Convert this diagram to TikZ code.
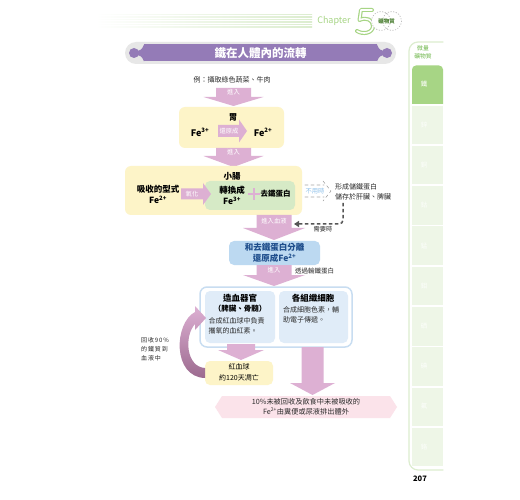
\documentclass[tikz,border=0pt]{standalone}
\usepackage{fontspec}
\setmainfont{Noto Sans CJK TC}
\usetikzlibrary{arrows.meta,calc,positioning}
\definecolor{ArrowPink}{HTML}{DDB0D3}
\definecolor{ArrowDark}{HTML}{9C6A8F}
\definecolor{BoxYellow}{HTML}{FDF4C8}
\definecolor{BoxGreen}{HTML}{D6EAC6}
\definecolor{BoxBlue}{HTML}{BCD9F1}
\definecolor{TextBlue}{HTML}{1F4E8C}
\definecolor{PanelBlue}{HTML}{E0ECF8}
\definecolor{PanelEdge}{HTML}{C8DDF1}
\definecolor{BannerPink}{HTML}{FBE3EA}
\definecolor{TitlePurple}{HTML}{947BB7}
\definecolor{CapsuleGray}{HTML}{E7E7E7}
\definecolor{LeafGreen}{HTML}{A7D585}
\definecolor{LeafLight}{HTML}{EEF6E7}
\definecolor{LeafEdge}{HTML}{DCEDCF}
\definecolor{LeafText}{HTML}{6DB649}
\definecolor{NoteBlue}{HTML}{8FC1EA}
\definecolor{InkGray}{HTML}{2B2B2B}
\definecolor{DashGray}{HTML}{555555}
% fat pink arrows: centre x, top, neck, tip, body half, head half
\newcommand{\fatdown}[6]{%
  \path[fill=ArrowPink]
    ({#1-#5},#2) -- ({#1+#5},#2) -- ({#1+#5},#3) -- ({#1+#6},#3)
    -- (#1,#4) -- ({#1-#6},#3) -- ({#1-#5},#3) -- cycle;%
}
% left, neck, tip, centre y, body half, head half
\newcommand{\fatright}[6]{%
  \path[fill=ArrowPink]
    (#1,{#4-#5}) -- (#2,{#4-#5}) -- (#2,{#4-#6}) -- (#3,#4)
    -- (#2,{#4+#6}) -- (#2,{#4+#5}) -- (#1,{#4+#5}) -- cycle;%
}

\begin{document}
\begin{tikzpicture}[x=1pt,y=-1pt,line cap=round,line join=round,
    every node/.style={inner sep=0pt},
    ybox/.style={fill=BoxYellow,rounded corners=6pt},
    titletext/.style={font=\bfseries\fontsize{11.5}{12}\selectfont,text=white},
    smalltext/.style={font=\fontsize{7}{9.8}\selectfont,text=InkGray},
    boldtext/.style={font=\bfseries\fontsize{8.5}{11}\selectfont,text=black,align=center},
    fetext/.style={font=\bfseries\fontsize{9}{11}\selectfont,text=black},
    arrowtext/.style={font=\fontsize{6.3}{7}\selectfont,text=white},
    tabtext/.style={font=\fontsize{6.5}{7}\selectfont,text=white}]
  \useasboundingbox (0,0) rectangle (520,500);
  \fill[white] (0,0) rectangle (520,500);

  % chapter header
  \foreach \y in {14.5,17,...,27}{
    \shade[left color=white,right color=LeafEdge] (95,{\y-0.45}) rectangle (312,{\y+0.45});}
  \node[font=\fontsize{9}{9}\selectfont,text=LeafGreen] (chapter) at (334,21) {Chapter};
  \draw[LeafGreen,line width=4pt] (372,10) -- (361,10) -- (359.5,20)
    .. controls (366,17) and (373,19.5) .. (373,26) .. controls (373,33) and (363,35) .. (357,31);
  \draw[white,line width=1.6pt] (372,10) -- (361,10) -- (359.5,20)
    .. controls (366,17) and (373,19.5) .. (373,26) .. controls (373,33) and (363,35) .. (357,31);
  \draw[gray!55,dotted,line width=0.7pt,fill=white] (381,21) circle (9.5) (392,21) circle (9.5);
  \node[font=\bfseries\fontsize{5.5}{6}\selectfont,text=LeafText!70!black] (chapname) at (386.5,21) {礦物質};

  % title banner
  \path[fill=CapsuleGray,rounded corners=11pt] (125,42) rectangle (396,64);
  \path[fill=TitlePurple] (144,44.5) rectangle (377,61.5);
  \path[fill=TitlePurple] (144,44.5) .. controls (142,50) and (140,51) .. (134,51)
    -- (134,55) .. controls (140,55) and (142,56) .. (144,61.5) -- cycle;
  \path[fill=TitlePurple] (377,44.5) .. controls (379,50) and (381,51) .. (387,51)
    -- (387,55) .. controls (381,55) and (379,56) .. (377,61.5) -- cycle;
  \fill[TitlePurple] (134,53) circle (5) (387,53) circle (5);
  \node[titletext] (title) at (260.5,53) {鐵在人體內的流轉};

  \node[smalltext] (food) at (232,79.5) {例：攝取綠色蔬菜、牛肉};

  % stomach
  \fatdown{233.5}{88}{97}{106}{17.5}{30}
  \node[arrowtext] (in1) at (233.5,92.5) {進入};
  \node[ybox,minimum width=105,minimum height=41] (stomach) at (231.5,127.5) {};
  \node[boldtext] (stomachname) at (233,118) {胃};
  \node[fetext] (fe3a) at (200,132) {Fe\textsuperscript{3+}};
  \node[fetext] (fe2a) at (263,132) {Fe\textsuperscript{2+}};
  \fatright{218}{239}{247}{131}{6}{11.5}
  \node[arrowtext] (reduce) at (229,131) {還原成};

  % small intestine
  \fatdown{233.5}{148}{156}{167}{17.5}{30}
  \node[arrowtext] (in2) at (233.5,152) {進入};
  \node[ybox,minimum width=177,minimum height=49] (intestine) at (213.5,190.5) {};
  \node[boldtext] (intestinename) at (232,176.5) {小腸};
  \node[boldtext] (absorb) at (158,194.5) {吸收的型式\\Fe\textsuperscript{2+}};
  \node[fill=BoxGreen,rounded corners=5pt,minimum width=90,minimum height=29] (convert) at (250,195.5) {};
  \fatright{181}{203}{211}{194}{5.5}{11}
  \node[arrowtext] (oxid) at (192,194) {氧化};
  \node[boldtext] (fe3b) at (232,195) {轉換成\\Fe\textsuperscript{3+}};
  \draw[ArrowPink,line width=2.5pt,line cap=butt] (248,194) -- (260,194) (254,188) -- (254,200);
  \node[font=\bfseries\fontsize{7.5}{8}\selectfont] (apo) at (275.5,194) {去鐵蛋白};

  % storage side path
  \draw[gray!70,dashed,line width=0.6pt] (305,185) -- (324,185) (305,197) -- (324,197)
    (323,181) -- (331,191) -- (323,201);
  \node[font=\fontsize{6.3}{7}\selectfont,text=NoteBlue] (notused) at (315,191) {不用時};
  \node[smalltext,anchor=west,align=left] (store) at (335,191.5) {形成儲鐵蛋白\\儲存於肝臟、脾臟};

  % into blood
  \fatdown{274}{215}{228}{240}{17.5}{31}
  \node[arrowtext] (in3) at (274,221.5) {進入血液};
  \coordinate (needtop) at ($(store.south west)+(8,3)$);
  \coordinate (bloodin) at (294,224);
  \draw[DashGray,line width=1.5pt,dash pattern=on 3.5pt off 2.5pt,line cap=butt,
    rounded corners=4pt,-{Triangle[length=5pt,width=6pt]}] (needtop) |- (bloodin);
  \node[font=\fontsize{6.2}{7}\selectfont,text=InkGray] (need) at (323,229.5) {需要時};

  \node[fill=BoxBlue,rounded corners=5pt,minimum width=91,minimum height=24] (release) at (274.5,253) {};
  \node[boldtext,text=TextBlue] (releasetext) at (274.5,253) {和去鐵蛋白分離\\還原成Fe\textsuperscript{2+}};

  \fatdown{274}{265}{275}{286}{17.5}{31}
  \node[arrowtext] (in4) at (274,270) {進入};
  \node[font=\fontsize{6.5}{7}\selectfont,text=InkGray,anchor=west] (transfer) at (295,271) {透過輸鐵蛋白};

  % destinations
  \node[draw=PanelEdge,line width=1.5pt,fill=white,rounded corners=7pt,
    minimum width=152,minimum height=60] (panel) at (276,317) {};
  \node[fill=PanelBlue,rounded corners=5pt,minimum width=70,minimum height=52] (marrow) at (240,317) {};
  \node[fill=PanelBlue,rounded corners=5pt,minimum width=69,minimum height=52] (tissue) at (313.5,317) {};
  \node[boldtext] (marrowname) at (240,303.5) {造血器官\\[-1pt]{\fontsize{7.5}{8}\selectfont（脾臟、骨髓）}};
  \node[smalltext,anchor=north west,align=left] (marrowtext) at (208.5,317.5) {合成紅血球中負責\\攜氧的血紅素。};
  \node[boldtext] (tissuename) at (313,298) {各組織細胞};
  \node[smalltext,anchor=north west,align=left] (tissuetext) at (283,306.5) {合成細胞色素，輔\\助電子傳遞。};

  % red blood cells and recycling
  \fatdown{241}{344}{350}{360}{14}{23}
  \node[ybox,rounded corners=5pt,minimum width=68,minimum height=24] (rbc) at (239,373) {};
  \node[font=\fontsize{7}{10.5}\selectfont,align=center] (rbctext) at (239,372.5) {紅血球\\約120天凋亡};
  \shade[top color=ArrowPink,bottom color=ArrowDark]
    (205,368) .. controls (186,367) and (184,336) .. (195,324)
    -- (195,330) -- (206,318) -- (195,306) -- (195,312)
    .. controls (174,323) and (172,377) .. (205,378) -- cycle;
  \node[font=\fontsize{6}{9}\selectfont\addfontfeature{LetterSpace=15},text=InkGray,
    anchor=north west,align=left] (recycle) at (141,337) {回收90\%\\的鐵質到\\血液中};

  % excretion
  \fatdown{312.5}{347}{383}{395}{11}{22.5}
  \path[fill=BannerPink] (215,407) -- (222,396) -- (390,396) -- (397,407) -- (390,418) -- (222,418) -- cycle;
  \node[font=\fontsize{7.2}{10}\selectfont,align=center,text=InkGray] (excrete) at (306,407)
    {10\%未被回收及飲食中未被吸收的\\Fe\textsuperscript{2+}由糞便或尿液排出體外};

  % side tabs
  \draw[LeafEdge,line width=1.2pt,rounded corners=9pt] (443,42) -- (409,42) -- (409,470) -- (443,470);
  \node[font=\fontsize{5.8}{7.5}\selectfont,text=LeafText,align=center] (tabhead) at (423,52.5) {微量\\礦物質};
  \path[fill=LeafGreen,rounded corners=4pt] (412,104) -- (412,65.5) -- (443,65.5) [sharp corners] -- (443,104) -- cycle;
  \node[tabtext] (tab0) at (424,84.5) {鐵};
  \foreach \t [count=\i] in {鋅,銅,鈷,錳,鉬,硒,碘,氟,鉻}{
    \path[fill=LeafLight] (412,{65.5+40.25*\i}) rectangle (443,{104+40.25*\i});
    \node[tabtext,text=white!85!LeafLight] (tab\i) at (424,{84.5+40.25*\i}) {\t};}
  \node[font=\bfseries\fontsize{7.5}{8}\selectfont] (page) at (420,479) {207};
\end{tikzpicture}
\end{document}
